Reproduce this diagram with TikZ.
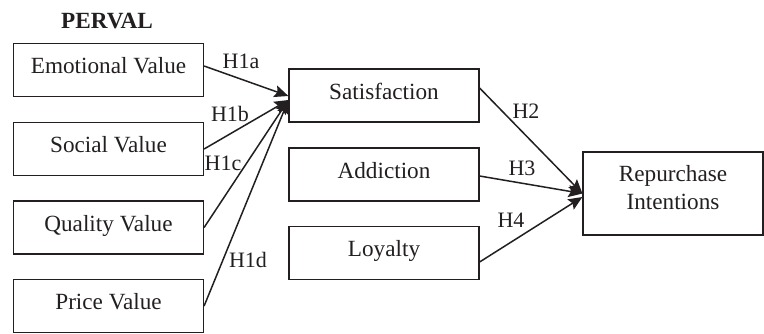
\documentclass[tikz,border=0pt]{standalone}
\usepackage{fontspec}
\setmainfont{Liberation Serif}
\usetikzlibrary{arrows.meta}
\definecolor{InkBlack}{HTML}{231F20}

\begin{document}
\begin{tikzpicture}[x=0.5pt, y=-0.5pt,
    boxbase/.style={draw=InkBlack, line width=0.6pt, inner sep=0pt,
                    font=\fontsize{11.6}{14}\selectfont, text=InkBlack},
    box/.style={boxbase, minimum width=95pt, minimum height=26.5pt,
                text height=8pt, text depth=4.3pt},
    hyp/.style={font=\fontsize{11}{13}\selectfont, text=InkBlack, inner sep=0pt},
    arr/.style={draw=InkBlack, line width=0.75pt,
                -{Stealth[length=7pt, width=6pt, inset=1.2pt]}}]
  \useasboundingbox (0,0) rectangle (764,333);

  \node[font=\fontsize{11.6}{14}\selectfont\bfseries, text=InkBlack] (perval) at (107,21) {PERVAL};

  % value dimensions
  \node[box] (emo)     at (108.5,70)  {Emotional Value};
  \node[box] (social)  at (108.5,149) {Social Value};
  \node[box] (quality) at (108.5,227.5) {Quality Value};
  \node[box] (price)   at (108.5,306) {Price Value};

  % mediators
  \node[box] (sat)    at (384,95.5)  {Satisfaction};
  \node[box] (addict) at (384,174.5) {Addiction};
  \node[box] (loyal)  at (384,253)   {Loyalty};

  \node[boxbase, minimum width=90pt, minimum height=41.5pt, align=center,
        text height=22pt, text depth=6.3pt] (repurch) at (673,193.5) {Repurchase\\Intentions};

  % hypotheses
  \draw[arr] ([yshift=2pt]emo.east) -- ([yshift=-0.25pt]sat.west);
  \draw[arr] (social.east)  -- ([yshift=-2.25pt]sat.west);
  \draw[arr] (quality.east) -- ([yshift=-2.25pt]sat.west);
  \draw[arr] (price.east)   -- ([yshift=-2.25pt]sat.west);
  \draw[arr] ([yshift=3.75pt]sat.east)   -- (repurch.west);
  \draw[arr] ([yshift=-0.75pt]addict.east) -- (repurch.west);
  \draw[arr] ([yshift=-4.5pt]loyal.east)   -- ([yshift=-1.75pt]repurch.west);

  \node[hyp] (h1a) at (241,61)    {H1a};
  \node[hyp] (h1b) at (230,114)   {H1b};
  \node[hyp] (h1c) at (223,163.5) {H1c};
  \node[hyp] (h1d) at (248,259.5) {H1d};
  \node[hyp] (h2)  at (526,111)   {H2};
  \node[hyp] (h3)  at (522,168)   {H3};
  \node[hyp] (h4)  at (511,220)   {H4};
\end{tikzpicture}
\end{document}
